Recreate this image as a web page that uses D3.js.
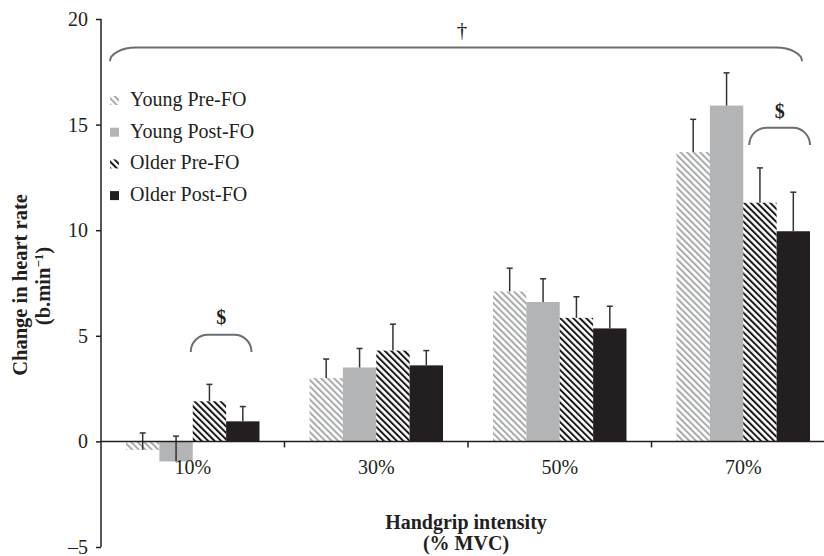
<!DOCTYPE html>
<html>
<head>
<meta charset="utf-8">
<script src="https://cdn.jsdelivr.net/npm/d3@7"></script>
<style>
body { margin: 0; background: #fff; }
svg text { font-family: "Liberation Serif", "Times New Roman", serif; fill: #231f20; }
.bold { font-weight: bold; }
</style>
</head>
<body>
<script>
var width = 824, height = 556;
var ink = "#231f20";
var fs = 20;

// data
var intensities = ["10%", "30%", "50%", "70%"];
var groups = ["Young Pre-FO", "Young Post-FO", "Older Pre-FO", "Older Post-FO"];
var youngPre  = [-0.4, 3.0, 7.1, 13.7];
var youngPost = [-0.95, 3.5, 6.6, 15.9];
var olderPre  = [1.9, 4.3, 5.85, 11.3];
var olderPost = [0.95, 3.6, 5.35, 9.95];
var youngPreErr  = [0.8, 0.9, 1.1, 1.55];
var youngPostErr = [1.2, 0.9, 1.1, 1.55];
var olderPreErr  = [0.8, 1.25, 1.0, 1.65];
var olderPostErr = [0.7, 0.7, 1.05, 1.85];
var yTicks = [-5, 0, 5, 10, 15, 20];

var series = [youngPre, youngPost, olderPre, olderPost];
var errors = [youngPreErr, youngPostErr, olderPreErr, olderPostErr];

var svg = d3.select("body").append("svg").attr("width", width).attr("height", height);

var x = d3.scaleBand().domain(intensities).range([101, 835]);
var xs = d3.scaleBand().domain(groups).range([25, x.bandwidth() - 25]);
var y = d3.scaleLinear().domain([-5, 20]).range([547, 19]);

// hatch patterns
var defs = svg.append("defs");
function hatch(id, color) {
	var p = defs.append("pattern").attr("id", id).attr("patternUnits", "userSpaceOnUse")
		.attr("width", 4.6).attr("height", 10).attr("patternTransform", "rotate(-45)");
	p.append("rect").attr("width", 4.6).attr("height", 10).attr("fill", "#fff");
	p.append("rect").attr("width", 2).attr("height", 10).attr("fill", color);
}
hatch("hatchYoung", "#a9aaac");
hatch("hatchOlder", "#1a1718");
var fills = ["url(#hatchYoung)", "#b3b4b6", "url(#hatchOlder)", ink];

// bars
var rows = [];
intensities.forEach(function(c, i) {
	groups.forEach(function(g, j) {
		rows.push({cat: c, grp: g, j: j, v: series[j][i], e: errors[j][i]});
	});
});

svg.selectAll(".bar").data(rows).enter().append("rect")
	.attr("class", "bar")
	.attr("x", function(d) { return x(d.cat) + xs(d.grp); })
	.attr("width", xs.bandwidth())
	.attr("y", function(d) { return y(Math.max(0, d.v)); })
	.attr("height", function(d) { return Math.abs(y(d.v) - y(0)); })
	.attr("fill", function(d) { return fills[d.j]; });

// error bars (upper only)
var eb = svg.selectAll(".err").data(rows).enter().append("g").attr("class", "err")
	.attr("stroke", "#333").attr("stroke-width", 1.5);
eb.append("line")
	.attr("x1", function(d) { return x(d.cat) + xs(d.grp) + xs.bandwidth() / 2; })
	.attr("x2", function(d) { return x(d.cat) + xs(d.grp) + xs.bandwidth() / 2; })
	.attr("y1", function(d) { return y(d.v); })
	.attr("y2", function(d) { return y(d.v + d.e); });
eb.append("line")
	.attr("x1", function(d) { return x(d.cat) + xs(d.grp) + xs.bandwidth() / 2 - 3; })
	.attr("x2", function(d) { return x(d.cat) + xs(d.grp) + xs.bandwidth() / 2 + 3; })
	.attr("y1", function(d) { return y(d.v + d.e); })
	.attr("y2", function(d) { return y(d.v + d.e); });

// y axis
var yAxis = svg.append("g").attr("transform", "translate(101,0)")
	.call(d3.axisLeft(y).tickValues(yTicks).tickSize(5).tickPadding(8).tickFormat(d3.format("d")));
yAxis.select(".domain").attr("stroke", ink).attr("stroke-width", 1.5).attr("d", "M0," + y(20) + "V" + y(-5));
yAxis.selectAll(".tick line").attr("stroke", ink).attr("stroke-width", 1.5);
yAxis.selectAll(".tick text").attr("font-size", fs).attr("fill", ink)
	.text(function(d) { return d < 0 ? "\u2013" + Math.abs(d) : d; });

// x axis on zero line
var xAxis = svg.append("g").attr("transform", "translate(0," + y(0) + ")");
xAxis.append("line").attr("x1", 101).attr("x2", width).attr("stroke", ink).attr("stroke-width", 1.5);
xAxis.selectAll(".xt").data(intensities.slice(1)).enter().append("line")
	.attr("x1", function(d) { return x(d); }).attr("x2", function(d) { return x(d); })
	.attr("y1", 0).attr("y2", 6).attr("stroke", ink).attr("stroke-width", 1.5);
xAxis.selectAll(".xl").data(intensities).enter().append("text")
	.attr("x", function(d) { return x(d) + x.bandwidth() / 2; })
	.attr("y", 33).attr("text-anchor", "middle").attr("font-size", fs)
	.text(function(d) { return d; });

// axis titles
svg.append("text").attr("class", "bold").attr("font-size", 20.5).attr("text-anchor", "middle")
	.attr("transform", "translate(27,285) rotate(-90)").text("Change in heart rate");
var t2 = svg.append("text").attr("class", "bold").attr("font-size", 20.5).attr("text-anchor", "middle")
	.attr("transform", "translate(50,286) rotate(-90)");
t2.append("tspan").text("(b.min");
t2.append("tspan").attr("font-size", 13).attr("dy", -7).text("\u22121");
t2.append("tspan").attr("dy", 7).text(")");
svg.append("text").attr("class", "bold").attr("font-size", fs).attr("text-anchor", "middle")
	.attr("x", 466).attr("y", 529).text("Handgrip intensity");
svg.append("text").attr("class", "bold").attr("font-size", fs).attr("text-anchor", "middle")
	.attr("x", 466).attr("y", 550).text("(% MVC)");

// legend
var lg = svg.selectAll(".lg").data(groups).enter().append("g")
	.attr("transform", function(d, i) { return "translate(110," + (106 + i * 31.7) + ")"; });
lg.append("rect").attr("y", -10).attr("width", 9).attr("height", 9)
	.attr("fill", function(d, i) { return fills[i]; });
lg.append("text").attr("x", 20).attr("font-size", fs).text(function(d) { return d; });

// significance brackets
function bracket(x1, x2, yTop, yEnd, rx) {
	var ry = yEnd - yTop;
	return "M" + x1 + "," + yEnd + "A" + rx + "," + ry + " 0 0 1 " + (x1 + rx) + "," + yTop +
		"H" + (x2 - rx) + "A" + rx + "," + ry + " 0 0 1 " + x2 + "," + yEnd;
}
svg.append("path").attr("fill", "none").attr("stroke", "#6d6e71").attr("stroke-width", 2)
	.attr("d", bracket(x("10%") + 9, x("70%") + x.bandwidth() - 33, y(18.65), y(18.0), 26));
svg.append("text").attr("x", 462).attr("y", 37).attr("text-anchor", "middle").attr("font-size", 21).text("\u2020");

var sig = [{cat: "10%", top: 5.05, end: 4.23, lab: 5.9, dx: -4}, {cat: "70%", top: 14.85, end: 14.03, lab: 15.64, dx: 4}];
sig.forEach(function(s) {
	var x1 = x(s.cat) + xs("Older Pre-FO") + 2 + s.dx;
	var x2 = x(s.cat) + xs("Older Post-FO") + xs.bandwidth() - 4 + s.dx;
	svg.append("path").attr("fill", "none").attr("stroke", "#6d6e71").attr("stroke-width", 2)
		.attr("d", bracket(x1, x2, y(s.top), y(s.end), 17));
	svg.append("text").attr("class", "bold").attr("x", (x1 + x2) / 2).attr("y", y(s.lab) + 7)
		.attr("text-anchor", "middle").attr("font-size", fs).text("$");
});
</script>
</body>
</html>
